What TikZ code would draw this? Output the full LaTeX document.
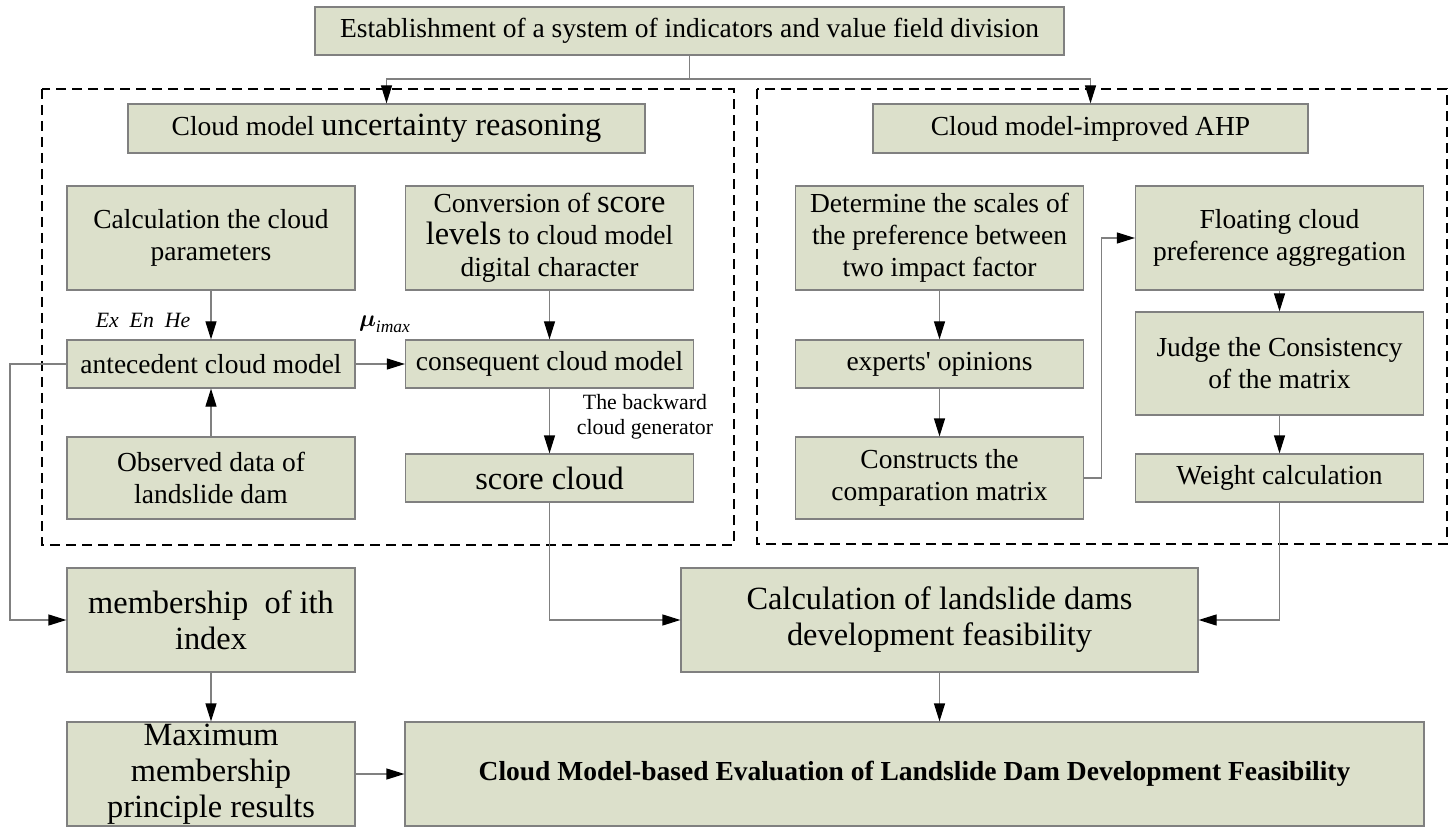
\documentclass[tikz,border=0pt]{standalone}
\usepackage{amsmath}
\usepackage{amssymb}
\usepackage{fontspec}
\setmainfont{Liberation Serif}
\usetikzlibrary{arrows.meta}
\definecolor{boxfill}{RGB}{220,224,203}
\definecolor{boxline}{RGB}{128,128,128}
\def\normsize{\fontsize{13.75}{16}\selectfont}
\def\bigsize{\fontsize{16.2}{18}\selectfont}
\def\smallsize{\fontsize{10.9}{12.5}\selectfont}
\def\wide{144pt}   % width of the small boxes
\def\tall{52pt}    % height of the two line boxes

\begin{document}
\begin{tikzpicture}[x=0.5pt,y=-0.5pt,
  nodes = {font=\normsize},
  box/.style = {draw=boxline,fill=boxfill,line width=0.6pt,inner sep=0pt,
    align=center,minimum width=\wide,minimum height=\tall},
  link/.style = {draw=boxline,line width=0.6pt,
    -{Triangle[length=9pt,width=5.5pt,color=black]}},
  frame/.style = {line width=1pt,dash pattern=on 5pt off 3pt}]
\useasboundingbox (0,0) rectangle (1455,828);
% the two dashed groups
\draw[frame] (42,89) rectangle (734,545);
\draw[frame] (757,89) rectangle (1447,544);
% top and titles
\node[box,minimum width=374.5pt,minimum height=24pt] (est) at (689.5,31)
  {Establishment of a system of indicators and value field division};
\node[box,minimum width=258.5pt,minimum height=24.5pt] (unc) at (386.5,128.5)
  {Cloud model {\bigsize uncertainty reasoning}};
\node[box,minimum width=217.5pt,minimum height=24.5pt] (ahp) at (1090.5,128.5)
  {Cloud model-improved AHP};
% left group
\node[box] (calc) at (211,238) {Calculation the cloud\\parameters};
\node[box] (conv) at (549.5,238)
  {Conversion of {\bigsize score}\\{\bigsize levels} to cloud model\\digital character};
\node[box,minimum height=24pt] (ante) at (211,364) {antecedent cloud model};
\node[box,minimum height=24pt] (cons) at (549.5,364) {consequent cloud model};
\node[box,minimum height=41pt] (obs) at (211,478) {Observed data of\\landslide dam};
\node[box,minimum height=24pt,font=\bigsize] (score) at (549.5,478) {score cloud};
% right group
\node[box] (det) at (939.5,238)
  {Determine the scales of\\the preference between\\two impact factor};
\node[box] (float) at (1279.5,238) {Floating cloud\\preference aggregation};
\node[box,minimum height=24pt] (expert) at (939.5,364) {experts\textquotesingle{} opinions};
\node[box,minimum height=51.5pt] (judge) at (1279.5,363.5)
  {Judge the Consistency\\of the matrix};
\node[box,minimum height=41pt] (constr) at (939.5,478)
  {Constructs the\\comparation matrix};
\node[box,minimum height=24pt] (weight) at (1279.5,478) {Weight calculation};
% results
\node[box,font=\bigsize] (member) at (211,620) {membership\ \ of ith\\index};
\node[box,font=\bigsize,minimum width=258.5pt] (feas) at (939.5,620)
  {Calculation of landslide dams\\development feasibility};
\node[box,font=\bigsize] (maxm) at (211,774)
  {Maximum\\membership\\principle results};
\node[box,minimum width=509.5pt,font=\normsize\bfseries] (final) at (914.5,774)
  {Cloud Model-based Evaluation of Landslide Dam Development Feasibility};
% labels on the links
\node[font=\smallsize\itshape] (eeh) at (143,320) {Ex\ \ En\ \ He};
\node[font=\fontsize{12.5}{14}\selectfont] (mu) at (385,324) {$\boldsymbol{\mu}_{\textit{imax}}$};
\node[font=\smallsize,align=center] (bwd) at (645,417) {The backward\\cloud generator};
% links
\coordinate (fork) at (689.5,79);
\coordinate (back) at (10,364);
\draw[boxline,line width=0.6pt] (est.south) -- (fork);
\draw[link] (fork) -| (unc.north);
\draw[link] (fork) -| (ahp.north);
\draw[link] (calc) -- (ante);
\draw[link] (obs) -- (ante);
\draw[link] (ante) -- (cons);
\draw[link] (conv) -- (cons);
\draw[link] (cons) -- (score);
\draw[link] (ante.west) -- (back) |- (member.west);
\draw[link] (score.south) |- (feas.west);
\draw[link] (det) -- (expert);
\draw[link] (expert) -- (constr);
\draw[link] (constr.east) -- ++(17,0) |- (float.west);
\draw[link] (float) -- (judge);
\draw[link] (judge) -- (weight);
\draw[link] (weight.south) |- (feas.east);
\draw[link] (member) -- (maxm);
\draw[link] (maxm) -- (final);
\draw[link] (feas.south) -- (feas.south |- final.north);
\end{tikzpicture}
\end{document}
